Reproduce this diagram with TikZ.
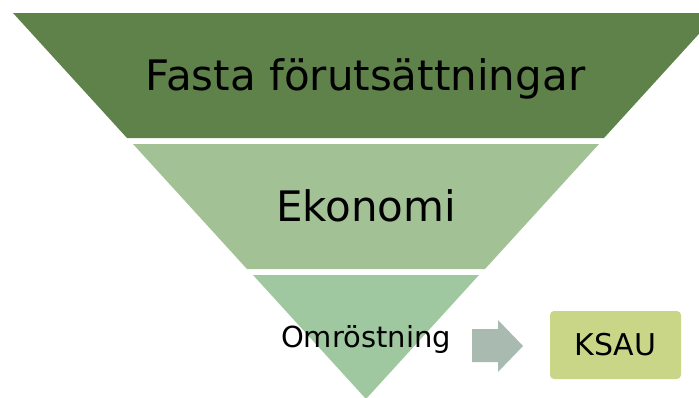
\documentclass[tikz,border=0pt]{standalone}
\usepackage{fontspec}
\setmainfont{DejaVu Sans}
\definecolor{bandA}{RGB}{95,130,75}
\definecolor{bandB}{RGB}{162,194,150}
\definecolor{bandC}{RGB}{160,200,160}
\definecolor{arrowgray}{RGB}{169,186,176}
\definecolor{ksaugreen}{RGB}{201,214,136}
\tikzset{
  band/.style={draw=none},
  bigtext/.style={font=\fontsize{42}{50}\selectfont, anchor=base, inner sep=0pt},
  midtext/.style={font=\fontsize{29}{35}\selectfont, anchor=base, inner sep=0pt},
  ksaubox/.style={fill=ksaugreen, rounded corners=4pt, minimum width=131pt, minimum height=68pt, inner sep=0pt, font=\fontsize{30}{36}\selectfont}
}
\begin{document}
\begin{tikzpicture}[x=1pt,y=-1pt]
\useasboundingbox (0,0) rectangle (699,397);
\clip (0,0) rectangle (699,397);
% bands
\fill[bandA] (13,13) -- (718,13) -- (604,138) -- (127,138) -- cycle;
\fill[bandB] (133,144) -- (599,144) -- (485,269) -- (247,269) -- cycle;
\fill[bandC] (253,275) -- (479,275) -- (366,399) -- cycle;
% texts
\node[bigtext] (fasta) at (365.5,90) {Fasta förutsättningar};
\node[bigtext] (ekonomi) at (366,221) {Ekonomi};
\node[midtext] (omrost) at (366,347) {Omröstning};
% arrow
\fill[arrowgray] (472,329) -- (498,329) -- (498,320) -- (523,346) -- (498,372) -- (498,362) -- (472,362) -- cycle;
% KSAU box
\node[ksaubox] (ksau) at (615.5,345) {KSAU};
\end{tikzpicture}
\end{document}
